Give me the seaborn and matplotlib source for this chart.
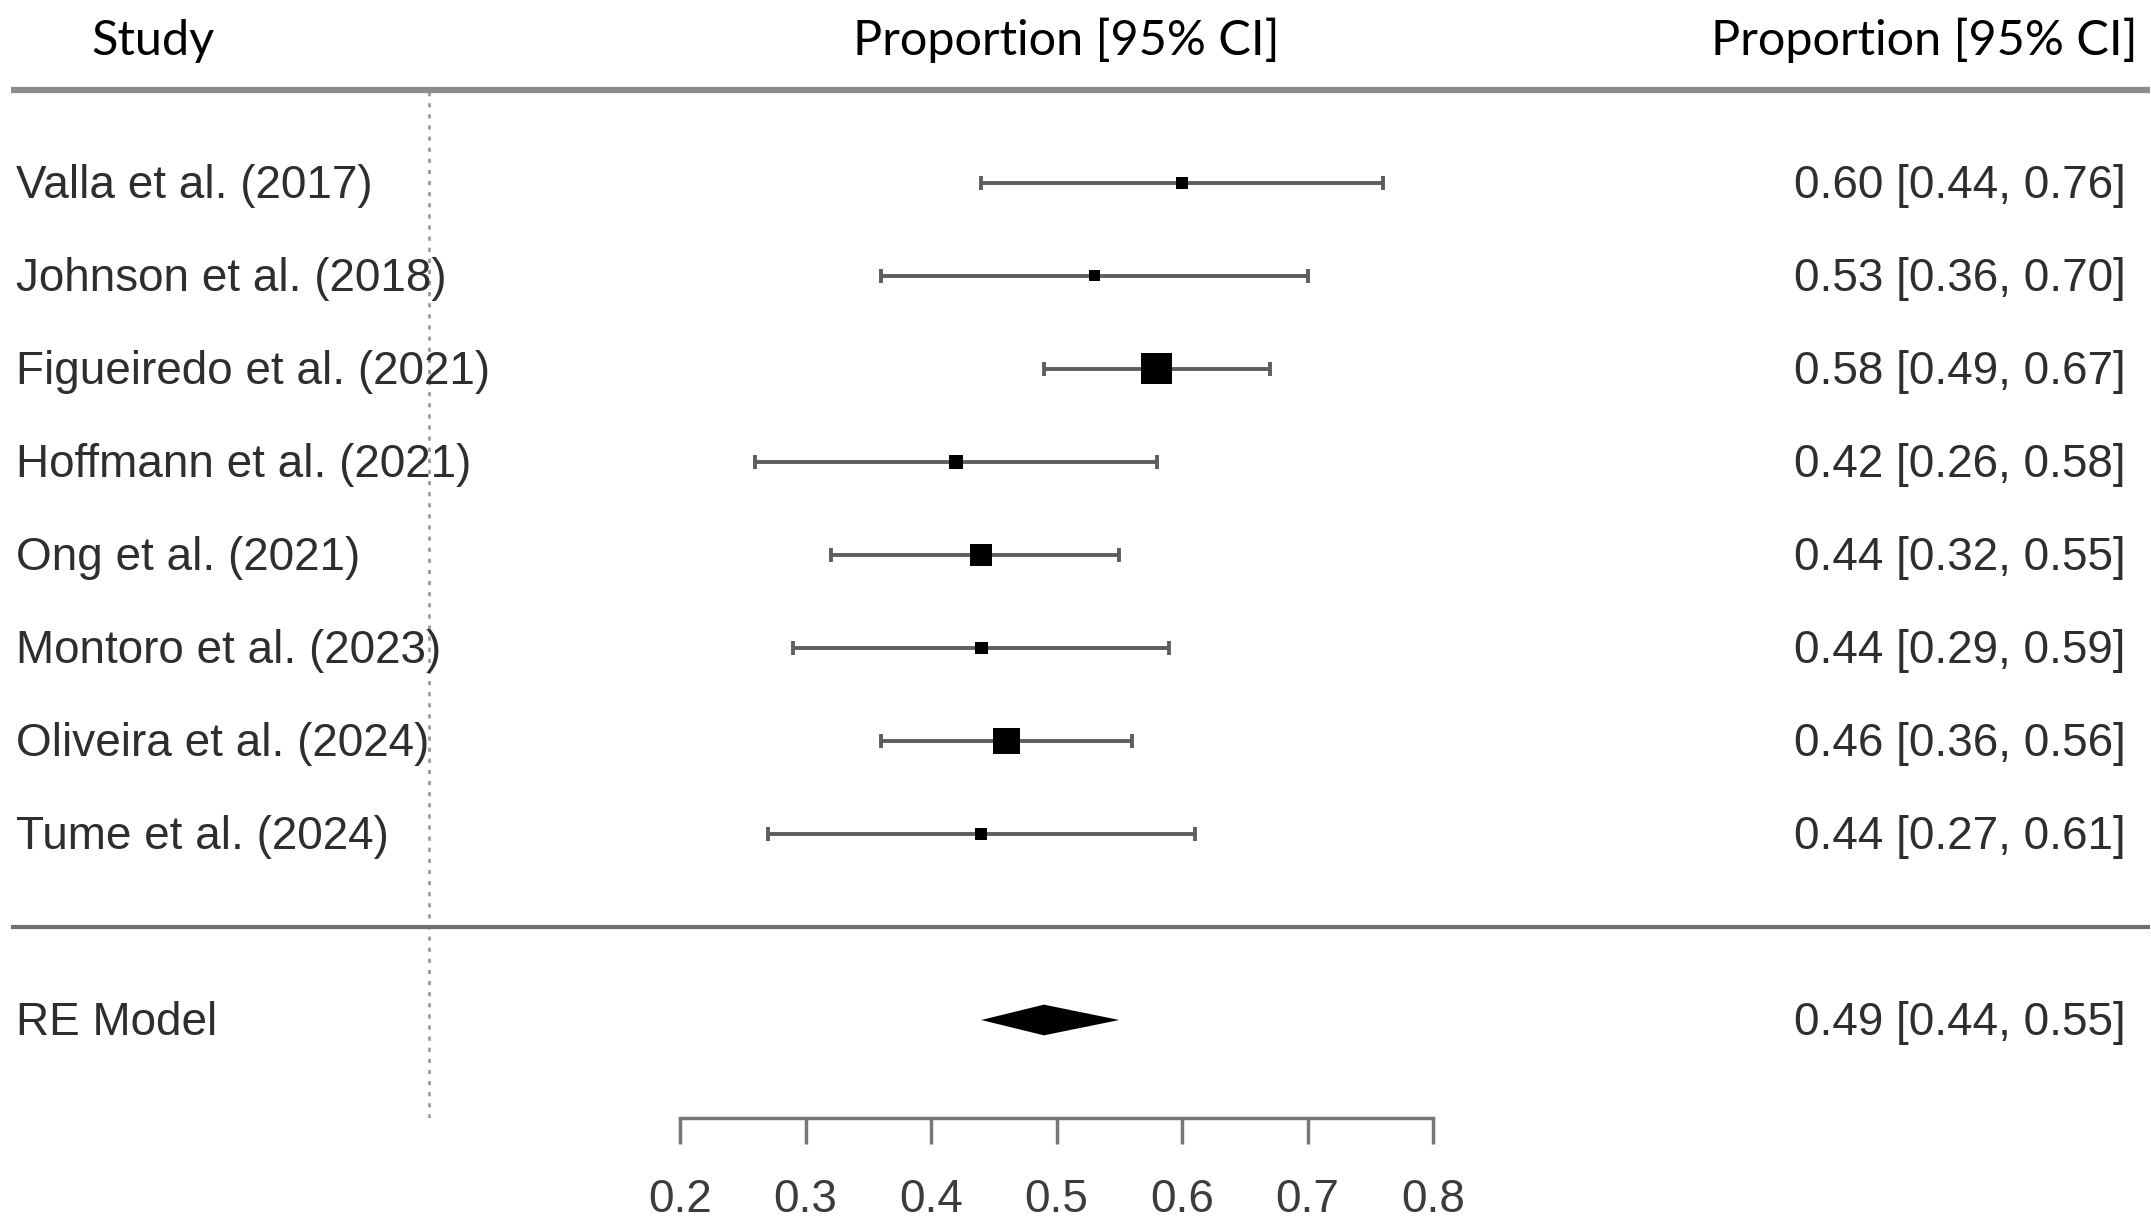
import numpy as np
import matplotlib
matplotlib.use("Agg")
import matplotlib.pyplot as plt
import seaborn as sns

# study data
studies = ["Valla et al. (2017)", "Johnson et al. (2018)", "Figueiredo et al. (2021)",
           "Hoffmann et al. (2021)", "Ong et al. (2021)", "Montoro et al. (2023)",
           "Oliveira et al. (2024)", "Tume et al. (2024)"]
est = [0.60, 0.53, 0.58, 0.42, 0.44, 0.44, 0.46, 0.44]
lower = [0.44, 0.36, 0.49, 0.26, 0.32, 0.29, 0.36, 0.27]
upper = [0.76, 0.70, 0.67, 0.58, 0.55, 0.59, 0.56, 0.61]
weights = [9.0, 8.3, 21.5, 9.8, 15.5, 9.4, 18.5, 9.2]  # approx. %

# pooled random-effects estimate
re_label = "RE Model"
re_est = 0.49
re_lower = 0.44
re_upper = 0.55

ticks = [0.2, 0.3, 0.4, 0.5, 0.6, 0.7, 0.8]

sns.set_theme(style="white")
plt.rcParams['font.family'] = ['Liberation Sans', 'DejaVu Sans']

fig = plt.figure(figsize=(21.51, 12.28), dpi=100)
ax = fig.add_axes([0, 110 / 1228, 1, 1118 / 1228])

k = len(studies)
rows = np.arange(k, 0, -1)

# x scale: 0.2 -> px 680, 0.8 -> px 1433
upp = 0.6 / 753
ax.set_xlim(0.2 - 680 * upp, 0.2 + (2151 - 680) * upp)
ax.set_ylim(1 - (1118 - 834) / 93, 1 + 834 / 93)

# reference line at 0
ax.vlines(0, ax.get_ylim()[0], k + 1, color="#9a9a9a", lw=2,
          linestyle=(0, (1.5, 2.5)), zorder=1)

# header / footer separators
ax.hlines(k + 1, -0.333, 1.371, color="#8c8c8c", lw=4.5, zorder=2)
ax.hlines(0, -0.333, 1.371, color="#6e6e6e", lw=3, zorder=2)

# confidence intervals
xerr = [np.array(est) - np.array(lower), np.array(upper) - np.array(est)]
ax.errorbar(est, rows, xerr=xerr, fmt="none", ecolor="#5e5e5e", elinewidth=2.8,
            capsize=5, capthick=2.8, zorder=3)

# point estimates, square side grows with weight
w = np.array(weights)
side = (11 + (w - w.min()) / (w.max() - w.min()) * 20) * 0.72
sns.scatterplot(x=est, y=rows, s=side ** 2, marker="s", color="black",
                linewidth=0, ax=ax, zorder=4, legend=False)

# summary diamond
h = 0.165
ax.fill([re_lower, re_est, re_upper, re_est], [-1, -1 + h, -1, -1 - h],
        color="black", lw=0, zorder=4)

# labels and annotations
txt_col = "#2e2e2e"
fs = 33
for r, name, e, lo, hi in zip(rows, studies, est, lower, upper):
    ax.text(-0.329, r - 0.161, name, fontsize=fs, color=txt_col, va="baseline", ha="left")
    ax.text(1.352, r - 0.161, f"{e:.2f} [{lo:.2f}, {hi:.2f}]", fontsize=fs,
            color=txt_col, va="baseline", ha="right")
ax.text(-0.329, -1 - 0.161, re_label, fontsize=fs, color=txt_col, va="baseline", ha="left")
ax.text(1.352, -1 - 0.161, f"{re_est:.2f} [{re_lower:.2f}, {re_upper:.2f}]", fontsize=fs,
        color=txt_col, va="baseline", ha="right")

# headers
hy = 1 + (834 - 55) / 93
ax.text(-0.269, hy, "Study", fontsize=35, family="Lato", color="black", va="baseline", ha="left")
ax.text(0.2 + (1066 - 680) * upp, hy, "Proportion [95% CI]", fontsize=35, family="Lato",
        color="black", va="baseline", ha="center")
ax.text(0.2 + (2138 - 680) * upp, hy, "Proportion [95% CI]", fontsize=35, family="Lato",
        color="black", va="baseline", ha="right")

# x axis
for s in ["top", "left", "right"]:
    ax.spines[s].set_visible(False)
ax.spines["bottom"].set_bounds(ticks[0], ticks[-1])
ax.spines["bottom"].set_color("#777777")
ax.spines["bottom"].set_linewidth(2.5)
ax.set_xticks(ticks)
ax.set_xticklabels([f"{t:.1f}" for t in ticks])
ax.set_yticks([])
ax.tick_params(axis="x", direction="out", length=19, width=2.5, color="#777777",
               pad=24, labelsize=fs, labelcolor="#3c3c3c", bottom=True)
ax.patch.set_alpha(0)

fig.savefig("out.png", dpi=100, facecolor="white")
